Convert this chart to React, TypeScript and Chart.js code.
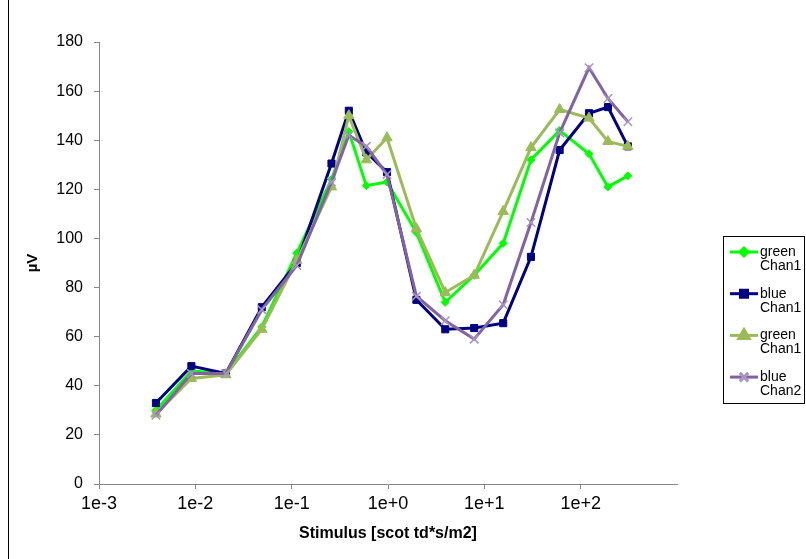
import { useEffect, useRef } from "react";
import { Chart, registerables } from "chart.js";
import { drawPoint } from "chart.js/helpers";

Chart.register(...registerables);

// Stimulus strength (scot td*s/m2) for each flash step
const stimulus = [
  0.0039, 0.0091, 0.0207, 0.049, 0.113, 0.259, 0.392, 0.596, 0.977, 1.97, 3.93,
  7.85, 15.7, 30.5, 60.5, 122, 192, 309,
];

// Response amplitudes in µV
const greenChan1 = [
  30, 46, 45, 64, 94, 124, 143.5, 121.5, 123, 102.5, 74, 85, 98, 132, 144,
  134.5, 121, 125.5,
];
const blueChan1 = [
  33, 48, 45, 72, 90, 130.5, 152, 135, 127, 75, 63, 63.5, 65.5, 92.5, 136, 151,
  153.5, 137.5,
];
const greenChan1b = [
  28.5, 43, 44.5, 63, 91, 121, 150, 132, 141, 104, 78, 85, 111, 137, 152.5, 149,
  139.5, 137.5,
];
const blueChan2 = [
  28, 45, 45, 71, 89, 123, 142, 137.5, 126, 76.5, 66.5, 59, 73, 106.5, 143,
  169.5, 157, 147.5,
];

const legendLabels = [
  ["green", "Chan1"],
  ["blue", "Chan1"],
  ["green", "Chan1"],
  ["blue", "Chan2"],
];

const decadeExponents = [-3, -2, -1, 0, 1, 2];
const yTicks = [0, 20, 40, 60, 80, 100, 120, 140, 160, 180];

const FONT = "'Liberation Sans', Arial, sans-serif";
const AXIS_GRAY = "#868686";

const toPoints = (values: number[]) =>
  values.map((y, i) => ({ x: stimulus[i], y }));

// Boxed legend on the right with two-line labels
const sideLegend = {
  id: "sideLegend",
  afterDraw(chart: any) {
    const ctx = chart.ctx as CanvasRenderingContext2D;
    ctx.save();
    ctx.strokeStyle = "#000";
    ctx.lineWidth = 1;
    ctx.strokeRect(723.5, 236.5, 81, 167);
    chart.data.datasets.forEach((ds: any, i: number) => {
      const y = 252 + i * 41.7;
      ctx.strokeStyle = ds.borderColor;
      ctx.lineWidth = 3;
      ctx.beginPath();
      ctx.moveTo(730, y);
      ctx.lineTo(758, y);
      ctx.stroke();
      ctx.fillStyle = ds.pointBackgroundColor;
      ctx.strokeStyle = ds.pointBorderColor;
      drawPoint(
        ctx,
        {
          pointStyle: ds.pointStyle,
          radius: ds.pointRadius,
          rotation: 0,
          borderWidth: ds.pointBorderWidth,
        } as any,
        744,
        y
      );
      ctx.fillStyle = "#000";
      ctx.font = `14px ${FONT}`;
      ctx.textAlign = "left";
      ctx.textBaseline = "middle";
      ctx.fillText(legendLabels[i][0], 760, y);
      ctx.fillText(legendLabels[i][1], 760, y + 14);
    });
    ctx.restore();
  },
};

export default function App() {
  const canvasRef = useRef<HTMLCanvasElement | null>(null);

  useEffect(() => {
    const canvas = canvasRef.current;
    if (!canvas) return;
    const chart = new Chart(canvas, {
      type: "line",
      data: {
        datasets: [
          {
            label: "green Chan1",
            data: toPoints(greenChan1),
            borderColor: "#00FF00",
            backgroundColor: "#00FF00",
            pointBackgroundColor: "#00FF00",
            pointBorderColor: "#00FF00",
            pointStyle: "rectRot",
            pointRadius: 4,
            pointBorderWidth: 1,
            borderWidth: 3,
            order: 4,
          },
          {
            label: "blue Chan1",
            data: toPoints(blueChan1),
            borderColor: "#000080",
            backgroundColor: "#000080",
            pointBackgroundColor: "#000080",
            pointBorderColor: "#000080",
            pointStyle: "rect",
            pointRadius: 5,
            pointBorderWidth: 1,
            borderWidth: 3,
            order: 3,
          },
          {
            label: "green Chan1",
            data: toPoints(greenChan1b),
            borderColor: "#9BBB59",
            backgroundColor: "#9BBB59",
            pointBackgroundColor: "#9BBB59",
            pointBorderColor: "#9BBB59",
            pointStyle: "triangle",
            pointRadius: 6,
            pointBorderWidth: 1,
            borderWidth: 3,
            order: 2,
          },
          {
            label: "blue Chan2",
            data: toPoints(blueChan2),
            borderColor: "#8064A2",
            backgroundColor: "#8064A2",
            pointBackgroundColor: "#A793C4",
            pointBorderColor: "#A793C4",
            pointStyle: "crossRot",
            pointRadius: 6,
            pointBorderWidth: 1.5,
            borderWidth: 3,
            order: 1,
          },
        ],
      },
      options: {
        responsive: false,
        animation: false,
        devicePixelRatio: 1,
        layout: { padding: { left: 0, top: 42, right: 129, bottom: 0 } },
        plugins: {
          legend: { display: false },
          tooltip: { enabled: false },
        },
        scales: {
          x: {
            type: "logarithmic",
            min: 0.001,
            max: 1000,
            afterBuildTicks: (scale: any) => {
              scale.ticks = decadeExponents.map((e) => ({ value: Math.pow(10, e) }));
            },
            afterFit: (scale: any) => {
              scale.height = 75;
            },
            border: { display: true, color: AXIS_GRAY, width: 1 },
            grid: {
              display: true,
              drawOnChartArea: false,
              drawTicks: true,
              tickLength: 5,
              color: AXIS_GRAY,
            },
            ticks: {
              autoSkip: false,
              maxRotation: 0,
              padding: 4,
              color: "#000",
              font: { family: FONT, size: 18 },
              callback: (value: any) => {
                const e = Math.round(Math.log10(Number(value)));
                return `1e${e >= 0 ? "+" : "-"}${Math.abs(e)}`;
              },
            },
            title: {
              display: true,
              text: "Stimulus [scot td*s/m2]",
              color: "#000",
              font: { family: FONT, size: 16, weight: "bold" },
              padding: { top: 0, bottom: 16 },
            },
          },
          y: {
            type: "linear",
            min: 0,
            max: 180,
            afterBuildTicks: (scale: any) => {
              scale.ticks = yTicks.map((v) => ({ value: v }));
            },
            afterFit: (scale: any) => {
              scale.width = 99;
            },
            border: { display: true, color: AXIS_GRAY, width: 1 },
            grid: {
              display: true,
              drawOnChartArea: false,
              drawTicks: true,
              tickLength: 5,
              color: AXIS_GRAY,
            },
            ticks: {
              padding: 11,
              color: "#000",
              font: { family: FONT, size: 16 },
            },
            title: {
              display: true,
              text: "µV",
              color: "#000",
              font: { family: FONT, size: 15, weight: "bold" },
              padding: { top: 24, bottom: 0 },
            },
          },
        },
      },
      plugins: [sideLegend],
    });
    return () => chart.destroy();
  }, []);

  return (
    <div
      style={{
        position: "absolute",
        left: 0,
        top: 0,
        width: 806,
        height: 559,
        overflow: "hidden",
        background: "#fff",
      }}
    >
      <div
        style={{
          position: "absolute",
          left: 8,
          top: -2,
          width: 900,
          height: 700,
          borderLeft: "1px solid #000",
        }}
      />
      <canvas
        ref={canvasRef}
        width={806}
        height={559}
        style={{ position: "absolute", left: 0, top: 0, width: 806, height: 559 }}
      />
    </div>
  );
}
